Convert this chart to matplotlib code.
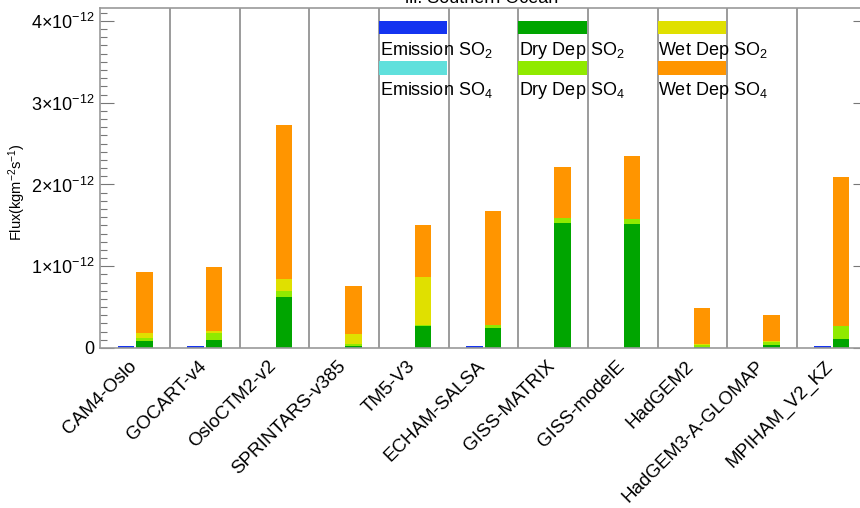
import matplotlib
matplotlib.use("Agg")
import matplotlib.pyplot as plt
from matplotlib.patches import Rectangle
from matplotlib.ticker import MultipleLocator
from matplotlib.transforms import ScaledTranslation
import numpy as np

plt.rcParams['font.family'] = ['Liberation Sans', 'DejaVu Sans']
plt.rcParams['mathtext.default'] = 'regular'

models = ["CAM4-Oslo", "GOCART-v4", "OsloCTM2-v2", "SPRINTARS-v385", "TM5-V3",
          "ECHAM-SALSA", "GISS-MATRIX", "GISS-modelE", "HadGEM2",
          "HadGEM3-A-GLOMAP", "MPIHAM_V2_KZ"]

# fluxes in units of 1e-12 kg m-2 s-1
emis_so2 = [0.03, 0.03, 0.004, 0.004, 0.004, 0.03, 0.004, 0.004, 0.004, 0.004, 0.03]
emis_so4 = [0.0, 0.0, 0.0, 0.0, 0.0, 0.0, 0.0, 0.0, 0.0, 0.0, 0.0]
dry_so2 = [0.08, 0.10, 0.627, 0.03, 0.27, 0.248, 1.53, 1.52, 0.012, 0.032, 0.11]
dry_so4 = [0.045, 0.085, 0.07, 0.02, 0.005, 0.028, 0.065, 0.054, 0.025, 0.045, 0.163]
wet_so2 = [0.055, 0.02, 0.143, 0.12, 0.59, 0.0, 0.0, 0.0, 0.008, 0.005, 0.0]
wet_so4 = [0.745, 0.78, 1.886, 0.59, 0.64, 1.40, 0.622, 0.774, 0.445, 0.327, 1.82]

yticks = [0, 1, 2, 3, 4]
ytick_labels = ["0", r"$1{\times}10^{-12}$", r"$2{\times}10^{-12}$",
                r"$3{\times}10^{-12}$", r"$4{\times}10^{-12}$"]

c_emis_so2 = "#1434f0"
c_emis_so4 = "#60e0dc"
c_dry_so2 = "#00a500"
c_dry_so4 = "#90ea00"
c_wet_so2 = "#e0e000"
c_wet_so4 = "#ff9500"

legend_cols = [
    [("Emission SO$_2$", c_emis_so2), ("Emission SO$_4$", c_emis_so4)],
    [("Dry Dep SO$_2$", c_dry_so2), ("Dry Dep SO$_4$", c_dry_so4)],
    [("Wet Dep SO$_2$", c_wet_so2), ("Wet Dep SO$_4$", c_wet_so4)],
]

fig = plt.figure(figsize=(8.6, 5.08), dpi=100)
ax = fig.add_axes([0.1166, 0.315, 0.891, 0.669])
ax.set_xlim(0, len(models))
ax.set_ylim(0, 4.157)

x = np.arange(len(models))

# emission bars on the left of each slot
ax.bar(x + 0.37, emis_so2, 0.24, color=c_emis_so2, linewidth=0)
ax.bar(x + 0.37, emis_so4, 0.24, bottom=emis_so2, color=c_emis_so4, linewidth=0)

# stacked deposition bars on the right
bottom = np.zeros(len(models))
for vals, col in [(dry_so2, c_dry_so2), (dry_so4, c_dry_so4),
                  (wet_so2, c_wet_so2), (wet_so4, c_wet_so4)]:
    ax.bar(x + 0.635, vals, 0.235, bottom=bottom, color=col, linewidth=0)
    bottom += np.array(vals)

# slot separators
for b in range(1, len(models)):
    ax.axvline(b, color="#8a8a8a", lw=1.2, zorder=0.5)

# legend drawn inside the plot
row_rect = [(3.839, 3.998), (3.337, 3.509)]
row_text = [3.582, 3.093]
for k, col in enumerate(legend_cols):
    x0 = 4 + 2 * k
    for r, (lab, color) in enumerate(col):
        y0, y1 = row_rect[r]
        ax.add_patch(Rectangle((x0, y0), 0.98, y1 - y0, color=color, lw=0))
        ax.text(x0 + 0.01, row_text[r], lab, fontsize=13, ha="left", va="baseline")

ax.set_xticks(x + 0.5)
ax.set_xticklabels(models, rotation=45, ha="right", va="top", fontsize=13.5)
ax.tick_params(axis="x", length=0, pad=7)
shift = ScaledTranslation(5 / 100, 0, fig.dpi_scale_trans)
for lab in ax.get_xticklabels():
    lab.set_transform(lab.get_transform() + shift)

ax.set_yticks(yticks)
ax.set_yticklabels(ytick_labels, fontsize=13)
ax.yaxis.set_minor_locator(MultipleLocator(0.1))
ax.tick_params(axis="y", which="major", direction="in", length=10, width=0.8,
               color="#777777", left=True, right=True, pad=4)
ax.tick_params(axis="y", which="minor", direction="in", length=5, width=0.8,
               color="#777777", left=True, right=True)

for s in ax.spines.values():
    s.set_color("#999999")
    s.set_linewidth(1.2)

ax.set_ylabel("Flux(kgm$^{-2}$s$^{-1}$)", fontsize=10.5)
ax.yaxis.set_label_coords(-0.094, 0.46)

fig.text(0.5605, 505 / 508, "iii. Southern Ocean", ha="center", va="baseline",
         fontsize=13)

fig.savefig("out.png", dpi=100)
